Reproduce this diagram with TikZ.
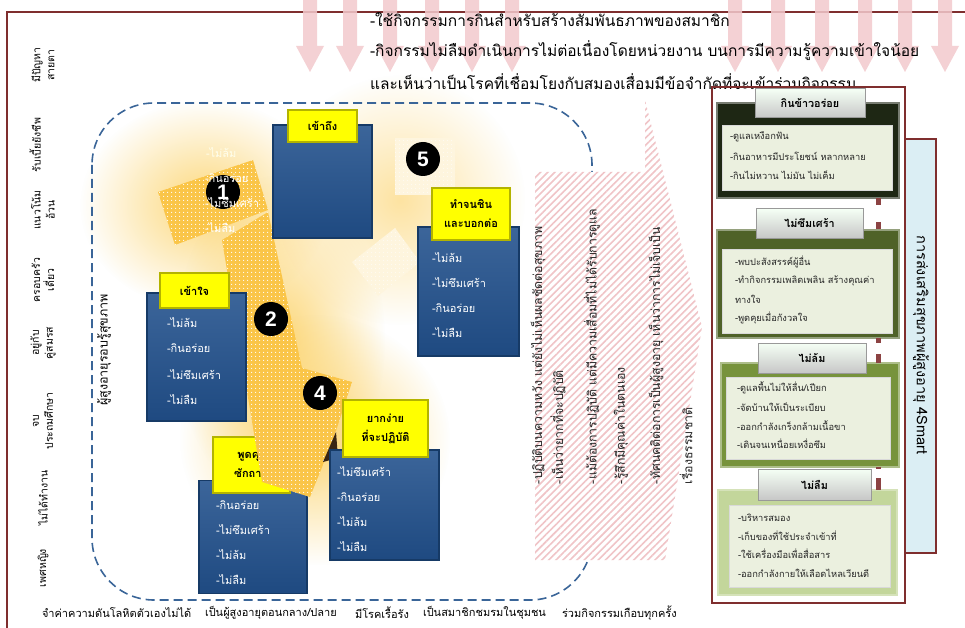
\documentclass[tikz,border=0pt]{standalone}
\usepackage{fontspec}
\setmainfont[Script=Thai]{Loma}
\newfontfamily\numfont{Liberation Sans}
\usetikzlibrary{patterns.meta,fadings,calc}
\definecolor{frame}{HTML}{7F2E2E}
\definecolor{pinkarr}{HTML}{F3CACD}
\definecolor{hatch}{HTML}{F0C4C7}
\definecolor{dashblue}{HTML}{3A6598}
\definecolor{boxblue}{HTML}{21508C}
\definecolor{boxedge}{HTML}{163A66}
\definecolor{tabyel}{HTML}{FFFF00}
\definecolor{tabedge}{HTML}{B3B300}
\definecolor{bandcol}{HTML}{FAC548}
\definecolor{glowcol}{HTML}{FCD36A}
\definecolor{pone}{HTML}{1E2714}
\definecolor{ptwo}{HTML}{4F6228}
\definecolor{pthree}{HTML}{77933C}
\definecolor{pfour}{HTML}{C3D69B}
\definecolor{pinner}{HTML}{EBF0DF}
\definecolor{sidebl}{HTML}{DBEEF4}
\tikzfading[name=glowfade, inner color=transparent!10, outer color=transparent!100]
\begin{document}
\begin{tikzpicture}[x=1pt,y=-1pt,
  every node/.style={inner sep=0pt, outer sep=0pt},
  lbl/.style={font=\fontsize{10.5}{14}\selectfont, align=center, rotate=90},
  bottomlbl/.style={font=\fontsize{11}{13}\selectfont, anchor=west},
  toptxt/.style={font=\fontsize{15.5}{17}\selectfont, anchor=west},
  arrtxt/.style={font=\fontsize{12.3}{14}\selectfont, rotate=90, anchor=west, text=black!85},
  bluebox/.style={draw=boxedge, line width=1.2pt, top color=boxblue!88!white, bottom color=boxblue!92!black},
  ytab/.style={draw=tabedge, line width=1.5pt, fill=tabyel, font=\bfseries\fontsize{11}{19}\selectfont, align=center},
  item/.style={text=white, font=\fontsize{11}{13}\selectfont, anchor=west},
  numc/.style={circle, fill=black, minimum size=34pt, text=white, font=\numfont\bfseries\fontsize{21}{21}\selectfont},
  band/.style={fill=bandcol, postaction={pattern={Dots[distance=4pt, radius=0.75pt]}, pattern color=white}},
  ptab/.style={draw=black!40, line width=1pt, top color=white!96!green, bottom color=black!22!white, font=\bfseries\fontsize{10.8}{12}\selectfont},
  pinner/.style={fill=pinner, draw=white!85!black, line width=0.6pt},
  pitem/.style={font=\fontsize{9.3}{11}\selectfont, anchor=west, text=black!85},
  reddash/.style={draw=frame!90, line width=5pt, dash pattern=on 7pt off 17pt}
]
\useasboundingbox[fill=white] (0,0) rectangle (965,628);

% glows
\fill[glowcol, path fading=glowfade] (205,205) ellipse (125 and 105);
\fill[glowcol, path fading=glowfade] (280,340) ellipse (105 and 165);
\fill[glowcol, path fading=glowfade] (315,440) ellipse (135 and 125);
\fill[glowcol!70, path fading=glowfade] (400,200) ellipse (125 and 125);
\fill[bandcol!18, postaction={pattern={Dots[distance=4pt, radius=0.6pt]}, pattern color=white}] (395,138) rectangle (455,195);
\fill[bandcol!18, postaction={pattern={Dots[distance=4pt, radius=0.6pt]}, pattern color=white}] (352,262) -- (395,228) -- (420,262) -- (378,296) -- cycle;

% outer frame
\draw[frame, line width=2pt] (965,12) -- (7,12) -- (7,628);

% top arrows
\foreach \ax in {310,350,390,432,472,512,735,778,822,865,905,945}{
  \fill[pinkarr, opacity=0.85] (\ax-7,0) -- (\ax+7,0) -- (\ax+7,46) -- (\ax+14,46) -- (\ax,72) -- (\ax-14,46) -- (\ax-7,46) -- cycle;
}

% top text
\node[toptxt] (top1) at (370,20) {-ใช้กิจกรรมการกินสำหรับสร้างสัมพันธภาพของสมาชิก};
\node[toptxt] (top2) at (370,51) {-กิจกรรมไม่ลืมดำเนินการไม่ต่อเนื่องโดยหน่วยงาน บนการมีความรู้ความเข้าใจน้อย};
\node[toptxt] (top3) at (370,82) {และเห็นว่าเป็นโรคที่เชื่อมโยงกับสมองเสื่อมมีข้อจำกัดที่จะเข้าร่วมกิจกรรม};

% left labels
\node[lbl] (l1) at (43,65) {มีปัญหา\\สายตา};
\node[lbl] (l2) at (35,145) {รับเบี้ยยังชีพ};
\node[lbl] (l3) at (43,210) {แนวโน้ม\\อ้วน};
\node[lbl] (l4) at (43,280) {ครอบครัว\\เดี่ยว};
\node[lbl] (l5) at (43,343) {อยู่กับ\\คู่สมรส};
\node[lbl] (l6) at (43,421) {จบ\\ประถมศึกษา};
\node[lbl] (l7) at (43,498) {ไม่ได้ทำงาน};
\node[lbl] (l8) at (43,568) {เพศหญิง};

% bottom labels
\node[bottomlbl] (bt1) at (42,613) {จำค่าความดันโลหิตตัวเองไม่ได้};
\node[bottomlbl] (bt2) at (205,613) {เป็นผู้สูงอายุตอนกลาง/ปลาย};
\node[bottomlbl] (bt3) at (355,613) {มีโรคเรื้อรัง};
\node[bottomlbl] (bt4) at (423,613) {เป็นสมาชิกชมรมในชุมชน};
\node[bottomlbl] (bt5) at (562,613) {ร่วมกิจกรรมเกือบทุกครั้ง};

% dashed region
\draw[dashblue, line width=1.6pt, dash pattern=on 9pt off 5pt, rounded corners=62pt] (92,103) rectangle (592,600);
\node[lbl, font=\fontsize{12.5}{14}\selectfont] (hl) at (104,350) {ผู้สูงอายุรอบรู้สุขภาพ};

% big hatched chevron
\path[fill=white] (535,172) -- (645,172) -- (645,100) -- (702,327) -- (665,560) -- (535,560) -- cycle;
\path[pattern={Lines[angle=45, distance=5pt, line width=1.6pt]}, pattern color=hatch] (535,172) -- (645,172) -- (645,100) -- (702,327) -- (665,560) -- (535,560) -- cycle;
\node[arrtxt] (c1) at (538,484) {-ปฏิบัติบนความหวัง แต่ยังไม่เห็นผลชัดต่อสุขภาพ};
\node[arrtxt] (c2) at (558,484) {-เห็นว่ายากที่จะปฏิบัติ};
\node[arrtxt] (c3) at (592,484) {-แม้ต้องการปฏิบัติ แต่มีความเสื่อมที่ไม่ได้รับการดูแล};
\node[arrtxt] (c4) at (621,484) {-รู้สึกมีคุณค่าในตนเอง};
\node[arrtxt] (c5) at (656,484) {-ทัศนคติต่อการเป็นผู้สูงอายุ เห็นว่าการไม่เจ็บเป็น};
\node[arrtxt] (c6) at (686,484) {เรื่องธรรมชาติ};

% box 3 (under band)
\node[bluebox, minimum width=108pt, minimum height=113pt] (b3) at (253,537) {};
\node[ytab, minimum width=77pt, minimum height=56pt] (t3) at (251.5,465) {พูดคุย\\ซักถาม};
\foreach \t [count=\i] in {-กินอร่อย,-ไม่ซึมเศร้า,-ไม่ล้ม,-ไม่ลืม}
  \node[item] (b3-\i) at (216,{505+(\i-1)*25}) {\t};

% bands
\path[band] (158,192) -- (253,160) -- (268,210) -- (175,245) -- cycle;
\path[band] (222,240) -- (268,212) -- (302,368) -- (352,382) -- (333,440) -- (310,497) -- (262,482) -- cycle;
\fill[black!70!brown] (323,462) -- (336,432) -- (338,458) -- cycle;

% box 1
\node[bluebox, minimum width=99pt, minimum height=113pt] (b1) at (322.5,181.5) {};
\node[ytab, minimum width=69pt, minimum height=32pt] (t1) at (322.5,126) {เข้าถึง};
% box 2
\node[bluebox, minimum width=99pt, minimum height=128pt] (b2) at (196.5,357) {};
\node[ytab, minimum width=69pt, minimum height=35pt] (t2) at (194.5,290.5) {เข้าใจ};
\foreach \t [count=\i] in {-ไม่ล้ม,-กินอร่อย,-ไม่ซึมเศร้า,-ไม่ลืม}
  \node[item] (b2-\i) at (167,{323+(\i-1)*25.6}) {\t};
% box 4
\node[bluebox, minimum width=109pt, minimum height=110pt] (b4) at (384.5,505) {};
\node[ytab, minimum width=85pt, minimum height=57pt] (t4) at (385.5,428.5) {ยากง่าย\\ที่จะปฏิบัติ};
\foreach \t [count=\i] in {-ไม่ซึมเศร้า,-กินอร่อย,-ไม่ล้ม,-ไม่ลืม}
  \node[item] (b4-\i) at (337,{472+(\i-1)*25}) {\t};
% box 5
\node[bluebox, minimum width=101pt, minimum height=129pt] (b5) at (468.5,291.5) {};
\node[ytab, minimum width=78pt, minimum height=52pt] (t5) at (471,214) {ทำจนชิน\\และบอกต่อ};
\foreach \t [count=\i] in {-ไม่ล้ม,-ไม่ซึมเศร้า,-กินอร่อย,-ไม่ลืม}
  \node[item] (b5-\i) at (432,{258+(\i-1)*25}) {\t};

% numbers
\node[numc] (n1) at (223,192) {1};
\node[numc] (n2) at (271,319) {2};
\node[numc] (n4) at (320,393) {4};
\node[numc] (n5) at (423,159) {5};
% overflow text of box 1
\node[item, text=white!92!yellow] (b1-1) at (206,153) {-ไม่ล้ม};
\foreach \t [count=\i from 2] in {-กินอร่อย,-ไม่ซึมเศร้า,-ไม่ลืม}
  \node[item] (b1-\i) at (205,{153+(\i-1)*25}) {\t};

% right frame
\draw[frame, line width=2pt] (712,87) rectangle (905,603);
\node[draw=frame, line width=1.5pt, fill=sidebl, minimum width=31pt, minimum height=414pt] (side) at (920.5,346) {};
\node[rotate=-90, font=\fontsize{14.5}{16}\selectfont] (sidet) at (921,345) {การส่งเสริมสุขภาพผู้สูงอายุ 4Smart};

% panels
\node[draw=pone!60!white, line width=1.5pt, fill=pone, minimum width=182pt, minimum height=95pt] (p1) at (808,150.5) {};
\node[pinner, minimum width=170pt, minimum height=65pt] (p1i) at (807,157.5) {};
\node[draw=ptwo!60!white, line width=1.5pt, fill=ptwo, minimum width=182pt, minimum height=108pt] (p2) at (808,284) {};
\node[pinner, minimum width=170pt, minimum height=84pt] (p2i) at (807,291) {};
\node[draw=pthree!60!white, line width=1.5pt, fill=pthree, minimum width=178pt, minimum height=104pt] (p3) at (810,415) {};
\node[pinner, minimum width=164pt, minimum height=82pt] (p3i) at (808,418) {};
\node[draw=pfour!70!white, line width=1.5pt, fill=pfour, minimum width=179pt, minimum height=105pt] (p4) at (807.5,542.5) {};
\node[pinner, minimum width=161pt, minimum height=82pt] (p4i) at (809.5,546) {};

\path[reddash] (p1.south -| 878,0) -- (p2.north -| 878,0);
\path[reddash, dash pattern=on 5pt off 11pt on 10pt] (p2.south -| 878,0) -- (p3.north -| 878,0);
\path[reddash, dash pattern=on 2pt off 9pt on 14pt] (p3.south -| 878,0) -- (p4.north -| 878,0);

\node[ptab, minimum width=110pt, minimum height=29pt] (pt1) at (810,103.5) {กินข้าวอร่อย};
\node[ptab, minimum width=107pt, minimum height=29pt] (pt2) at (809.5,223.5) {ไม่ซึมเศร้า};
\node[ptab, minimum width=108pt, minimum height=30pt] (pt3) at (812,358) {ไม่ล้ม};
\node[ptab, minimum width=113pt, minimum height=31pt] (pt4) at (814.5,484.5) {ไม่ลืม};

\node[pitem] (i11) at (730,137) {-ดูแลเหงือกฟัน};
\node[pitem] (i12) at (730,156) {-กินอาหารมีประโยชน์ หลากหลาย};
\node[pitem] (i13) at (730,175) {-กินไม่หวาน ไม่มัน ไม่เค็ม};
\node[pitem] (i21) at (735,262) {-พบปะสังสรรค์ผู้อื่น};
\node[pitem] (i22) at (735,281) {-ทำกิจกรรมเพลิดเพลิน สร้างคุณค่า};
\node[pitem] (i23) at (735,299) {ทางใจ};
\node[pitem] (i24) at (735,318) {-พูดคุยเมื่อกังวลใจ};
\node[pitem] (i31) at (737,388) {-ดูแลพื้นไม่ให้ลื่น/เปียก};
\node[pitem] (i32) at (737,407) {-จัดบ้านให้เป็นระเบียบ};
\node[pitem] (i33) at (737,426) {-ออกกำลังเกร็งกล้ามเนื้อขา};
\node[pitem] (i34) at (737,444) {-เดินจนเหนื่อยเหงื่อซึม};
\node[pitem] (i41) at (738,518) {-บริหารสมอง};
\node[pitem] (i42) at (738,536) {-เก็บของที่ใช้ประจำเข้าที่};
\node[pitem] (i43) at (738,554) {-ใช้เครื่องมือเพื่อสื่อสาร};
\node[pitem] (i44) at (738,573) {-ออกกำลังกายให้เลือดไหลเวียนดี};
\end{tikzpicture}
\end{document}
